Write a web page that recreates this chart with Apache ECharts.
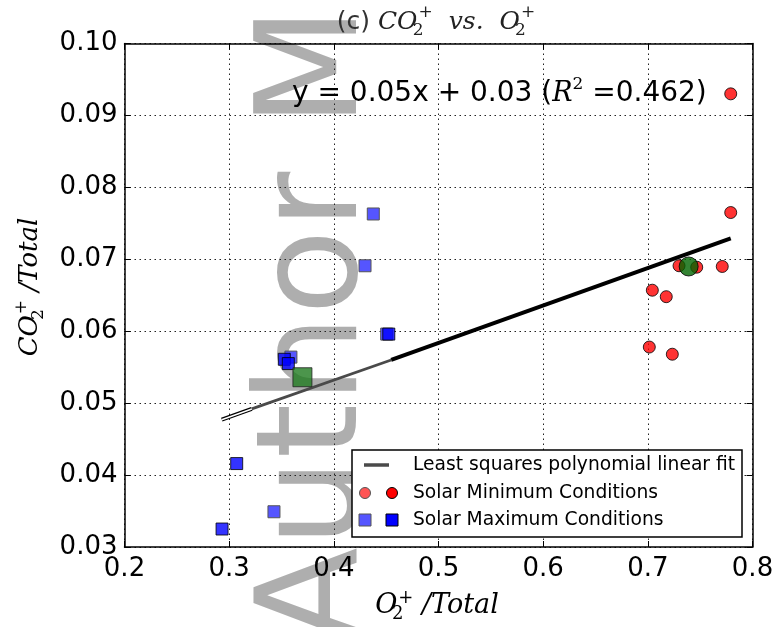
<!DOCTYPE html>
<html><head><meta charset="utf-8">
<script src="https://cdn.jsdelivr.net/npm/echarts@6/dist/echarts.min.js"></script>
<style>html,body{margin:0;padding:0;background:#fff}#c{width:779px;height:627px}</style>
</head><body><div id="c"></div><script>
// ---- data ----
const xTicks = [0.2, 0.3, 0.4, 0.5, 0.6, 0.7, 0.8];
const yTicks = [0.03, 0.04, 0.05, 0.06, 0.07, 0.08, 0.09, 0.10];
const solarMinO2  = [0.7792, 0.7792, 0.7298, 0.7467, 0.7711, 0.7043, 0.7176, 0.7014, 0.7234];
const solarMinCO2 = [0.0930, 0.0765, 0.0691, 0.0689, 0.0690, 0.0657, 0.0648, 0.0578, 0.0568];
const solarMaxLightO2  = [0.3428, 0.4298, 0.4377, 0.4505, 0.3590];
const solarMaxLightCO2 = [0.0349, 0.0691, 0.0763, 0.0596, 0.0564];
const solarMaxDarkO2  = [0.2932, 0.3072, 0.3527, 0.3565, 0.4525];
const solarMaxDarkCO2 = [0.0325, 0.0416, 0.0561, 0.0555, 0.0596];
const minMean = [0.739, 0.0690];
const maxMean = [0.370, 0.0536];
const fitX = [0.2929, 0.3216, 0.4548, 0.7792];
const fitY = [0.0477, 0.0492, 0.0560, 0.0729];
const legendLabels = ['Least squares polynomial linear fit', 'Solar Minimum Conditions', 'Solar Maximum Conditions'];

const pairs = (xs, ys) => xs.map((x, i) => [x, ys[i]]);
const chart = echarts.init(document.getElementById('c'), null, {renderer: 'canvas'});

const SERIF = '"DejaVu Serif"';
const SANS = '"DejaVu Sans"';
const axisCommon = {
  type: 'value',
  axisLine: {show: true, lineStyle: {color: '#000', width: 1.5}},
  axisTick: {show: true, inside: true, length: 6, lineStyle: {color: '#000', width: 1}},
};
const dotted = {show: true, lineStyle: {color: '#222', width: 1, type: [1.5, 3.5]}};

const option = {
  animation: false,
  backgroundColor: '#fff',
  grid: {left: 124.5, right: 26.5, top: 43.5, bottom: 80, containLabel: false},
  xAxis: [
    Object.assign({}, axisCommon, {
      min: xTicks[0], max: xTicks[xTicks.length - 1], interval: 0.1, position: 'bottom',
      axisLabel: {color: '#000', fontFamily: SANS, fontSize: 26, margin: 9, formatter: v => v.toFixed(1)},
      splitLine: dotted
    }),
    Object.assign({}, axisCommon, {
      min: xTicks[0], max: xTicks[xTicks.length - 1], interval: 0.1, position: 'top',
      axisLabel: {show: false}, splitLine: {show: false}
    })
  ],
  yAxis: [
    Object.assign({}, axisCommon, {
      min: yTicks[0], max: yTicks[yTicks.length - 1], interval: 0.01, position: 'left',
      axisLabel: {color: '#000', fontFamily: SANS, fontSize: 26, margin: 7, formatter: v => v.toFixed(2)},
      splitLine: dotted
    }),
    Object.assign({}, axisCommon, {
      min: yTicks[0], max: yTicks[yTicks.length - 1], interval: 0.01, position: 'right',
      axisLabel: {show: false}, splitLine: {show: false}
    })
  ],
  series: [
    {type: 'scatter', name: 'maxLight', symbol: 'rect', symbolSize: 12, z: 3,
     itemStyle: {color: '#5555ff', borderColor: '#555', borderWidth: 1, opacity: 1},
     data: pairs(solarMaxLightO2, solarMaxLightCO2)},
    {type: 'scatter', name: 'maxDark', symbol: 'rect', symbolSize: 12, z: 4,
     itemStyle: {color: '#0000ff', borderColor: '#000', borderWidth: 1},
     data: pairs(solarMaxDarkO2, solarMaxDarkCO2)},
    {type: 'scatter', name: 'min', symbol: 'circle', symbolSize: 12, z: 4,
     itemStyle: {color: '#ff0000', borderColor: '#000', borderWidth: 1},
     data: pairs(solarMinO2, solarMinCO2)},
    // fit line: outlined start piece, grey middle piece, black end piece
    {type: 'line', z: 5, showSymbol: false, symbol: 'none',
     lineStyle: {color: '#000', width: 4},
     data: pairs(fitX.slice(0, 2), fitY.slice(0, 2))},
    {type: 'line', z: 6, showSymbol: false, symbol: 'none',
     lineStyle: {color: '#fff', width: 1.6},
     data: pairs(fitX.slice(0, 2), fitY.slice(0, 2))},
    {type: 'line', z: 5, showSymbol: false, symbol: 'none',
     lineStyle: {color: '#4a4a4a', width: 2.8},
     data: pairs(fitX.slice(1, 3), fitY.slice(1, 3))},
    {type: 'line', z: 5, showSymbol: false, symbol: 'none',
     lineStyle: {color: '#000', width: 4},
     data: pairs(fitX.slice(2, 4), fitY.slice(2, 4))},
    {type: 'scatter', name: 'minMean', symbol: 'circle', symbolSize: 19, z: 7,
     itemStyle: {color: '#006400', borderColor: '#000', borderWidth: 1},
     data: [minMean]},
    {type: 'scatter', name: 'maxMean', symbol: 'rect', symbolSize: 19, z: 7,
     itemStyle: {color: '#1f7a1f', borderColor: '#222', borderWidth: 1},
     data: [maxMean]}
  ],
  graphic: [
    // watermark
    {type: 'text', x: 320, y: 643, rotation: Math.PI / 2, z: -1, silent: true,
     style: {text: 'Author Manuscript', font: '140px "DejaVu Sans"', fill: 'rgba(120,120,120,0.6)',
             textAlign: 'left', textVerticalAlign: 'middle'}},
    // title
    {type: 'text', x: 436, y: 22, z: 10,
     style: {
       text: '{a|(c) }{m|CO}{sub|2}{sup|+}{m|  vs.  O}{sub|2}{sup|+}',
       textAlign: 'center', textVerticalAlign: 'middle',
       rich: {
         a: {fontFamily: SANS, fontSize: 25, fill: '#333', lineHeight: 35},
         m: {fontFamily: SERIF, fontStyle: 'italic', fontSize: 25, fill: '#222', lineHeight: 35},
         sub: {fontFamily: SERIF, fontSize: 17, fill: '#222', verticalAlign: 'bottom', lineHeight: 17, width: 1},
         sup: {fontFamily: SERIF, fontSize: 17, fill: '#222', verticalAlign: 'top', lineHeight: 17}
       }
     }},
    // equation
    {type: 'text', x: 292, y: 94, z: 10,
     style: {
       text: '{t|y = 0.05x + 0.03 (}{m|R}{sup|2}{t| =0.462)}',
       textAlign: 'left', textVerticalAlign: 'middle',
       rich: {
         t: {fontFamily: SANS, fontSize: 28, fill: '#000', lineHeight: 36},
         m: {fontFamily: SERIF, fontStyle: 'italic', fontSize: 27, fill: '#000', lineHeight: 36},
         sup: {fontFamily: SERIF, fontSize: 17, fill: '#000', verticalAlign: 'top', lineHeight: 20}
       }
     }},
    // x-axis name
    {type: 'text', x: 437, y: 606, z: 10,
     style: {
       text: '{m|O}{sub|2}{sup|+}{m| /Total}',
       textAlign: 'center', textVerticalAlign: 'middle',
       rich: {
         m: {fontFamily: SERIF, fontStyle: 'italic', fontSize: 27, fill: '#000', lineHeight: 34},
         sub: {fontFamily: SERIF, fontSize: 18, fill: '#000', verticalAlign: 'bottom', lineHeight: 18, width: 1},
         sup: {fontFamily: SERIF, fontSize: 18, fill: '#000', verticalAlign: 'top', lineHeight: 18}
       }
     }},
    // y-axis name
    {type: 'text', x: 30, y: 287, rotation: Math.PI / 2, z: 10,
     style: {
       text: '{m|CO}{sub|2}{sup|+}{m| /Total}',
       textAlign: 'center', textVerticalAlign: 'middle',
       rich: {
         m: {fontFamily: SERIF, fontStyle: 'italic', fontSize: 26, fill: '#000', lineHeight: 34},
         sub: {fontFamily: SERIF, fontSize: 17, fill: '#000', verticalAlign: 'bottom', lineHeight: 17, width: 1},
         sup: {fontFamily: SERIF, fontSize: 17, fill: '#000', verticalAlign: 'top', lineHeight: 17}
       }
     }},
    // legend box
    {type: 'rect', z: 20, shape: {x: 352, y: 450, width: 390, height: 87},
     style: {fill: '#fff', stroke: '#000', lineWidth: 1.5}},
    {type: 'line', z: 21, shape: {x1: 364, y1: 465, x2: 389, y2: 465},
     style: {stroke: '#4a4a4a', lineWidth: 3.5}},
    {type: 'circle', z: 21, shape: {cx: 365, cy: 493, r: 5.5}, style: {fill: '#ff5555', stroke: '#555', lineWidth: 1}},
    {type: 'circle', z: 21, shape: {cx: 392, cy: 493, r: 5.5}, style: {fill: '#ff0000', stroke: '#000', lineWidth: 1}},
    {type: 'rect', z: 21, shape: {x: 359, y: 514, width: 12, height: 12}, style: {fill: '#5555ff', stroke: '#555', lineWidth: 1}},
    {type: 'rect', z: 21, shape: {x: 386, y: 514, width: 12, height: 12}, style: {fill: '#0000ff', stroke: '#000', lineWidth: 1}},
    {type: 'text', z: 21, x: 413, y: 465, style: {text: legendLabels[0], font: '18.7px "DejaVu Sans"', fill: '#000', textVerticalAlign: 'middle'}},
    {type: 'text', z: 21, x: 413, y: 493, style: {text: legendLabels[1], font: '18.7px "DejaVu Sans"', fill: '#000', textVerticalAlign: 'middle'}},
    {type: 'text', z: 21, x: 413, y: 520, style: {text: legendLabels[2], font: '18.7px "DejaVu Sans"', fill: '#000', textVerticalAlign: 'middle'}}
  ]
};
chart.setOption(option);
</script></body></html>
